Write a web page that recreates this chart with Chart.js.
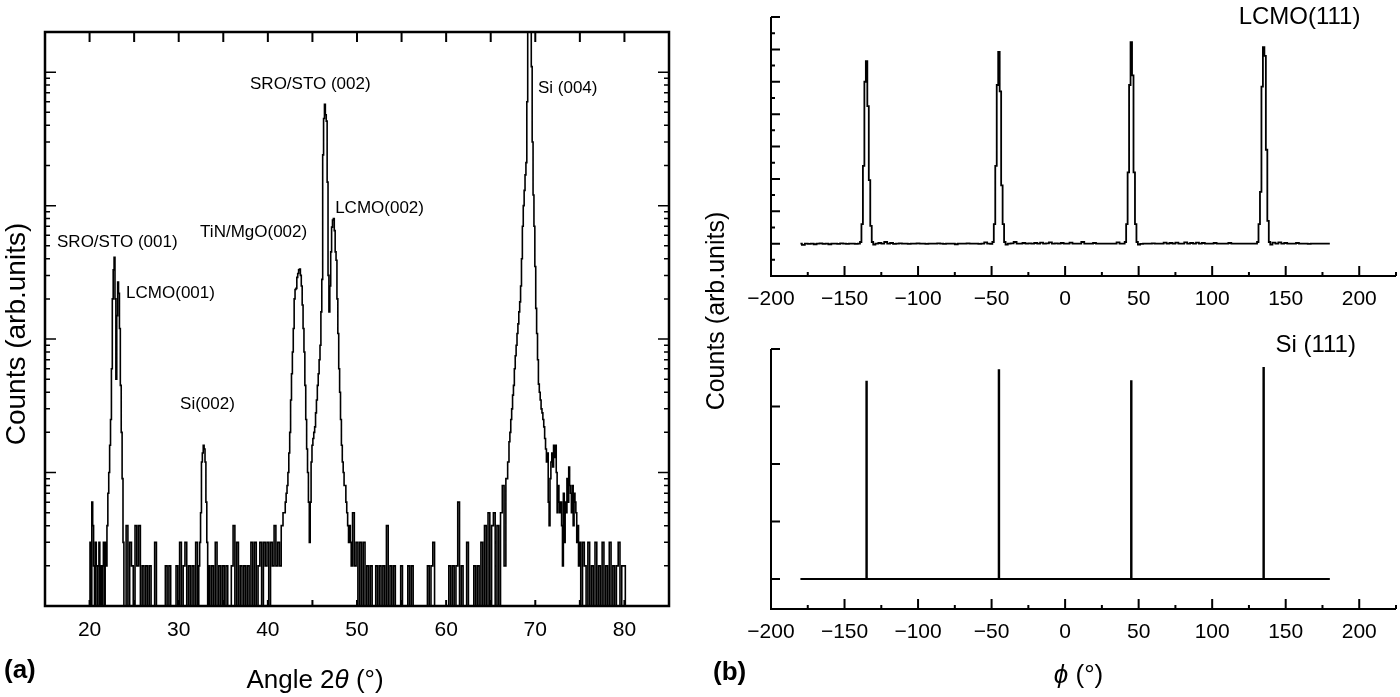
<!DOCTYPE html>
<html>
<head>
<meta charset="utf-8">
<title>XRD 2theta and phi scans</title>
<script src="https://cdn.jsdelivr.net/npm/chart.js@4.4.1/dist/chart.umd.min.js"></script>
<style>
  html, body { margin: 0; padding: 0; background: #fff; }
  #page { position: relative; width: 1400px; height: 697px; overflow: hidden; }
  .panel { position: absolute; top: 0; height: 697px; width: 700px; }
  #panelA { left: 0; }
  #panelB1, #panelB2 { left: 700px; }
</style>
</head>
<body>
<div id="page">
  <div class="panel" id="panelA"><canvas id="chartA"></canvas></div>
  <div class="panel" id="panelB1"><canvas id="chartB1"></canvas></div>
  <div class="panel" id="panelB2"><canvas id="chartB2"></canvas></div>
</div>
<script>
/* (a) theta-2theta scan, counts on a log axis */
const twoTheta = [
  20.0, 20.1, 20.2, 20.3, 20.4, 20.5, 20.6, 20.7, 20.8, 20.9,
  21.0, 21.1, 21.2, 21.3, 21.4, 21.5, 21.6, 21.7, 21.8, 21.9,
  22.0, 22.1, 22.2, 22.3, 22.4, 22.5, 22.6, 22.7, 22.8, 22.9,
  23.0, 23.1, 23.2, 23.3, 23.4, 23.5, 23.6, 23.7, 23.8, 23.9,
  24.0, 24.2, 24.4, 24.6, 24.8, 25.0, 25.2, 25.4, 25.6, 25.8,
  26.0, 26.2, 26.4, 26.6, 26.8, 27.0, 27.2, 27.4, 27.6, 27.8,
  28.0, 28.2, 28.4, 28.6, 28.8, 29.0, 29.2, 29.4, 29.6, 29.8,
  30.0, 30.2, 30.4, 30.6, 30.8, 31.0, 31.2, 31.4, 31.6, 31.8,
  32.0, 32.2,
  32.3, 32.4, 32.5, 32.6, 32.7, 32.8, 32.9, 33.0, 33.1, 33.2, 33.3,
  33.4, 33.6, 33.8, 34.0, 34.2, 34.4, 34.6, 34.8, 35.0, 35.2,
  35.4, 35.6, 35.8, 36.0, 36.2, 36.4, 36.6, 36.8, 37.0, 37.2,
  37.4, 37.6, 37.8, 38.0, 38.2, 38.4, 38.6, 38.8, 39.0, 39.2,
  39.4, 39.6, 39.8, 40.0, 40.2, 40.4, 40.6, 40.8, 41.0, 41.2,
  41.4, 41.6, 41.8,
  41.9, 42.0, 42.1, 42.2, 42.3, 42.4, 42.5, 42.6, 42.7, 42.8,
  42.9, 43.0, 43.1, 43.2, 43.3, 43.4, 43.5, 43.6, 43.7, 43.8,
  43.9, 44.0, 44.1, 44.2, 44.3, 44.4, 44.5, 44.6, 44.7, 44.8,
  44.9, 45.0, 45.1, 45.2, 45.3, 45.4, 45.5, 45.6, 45.7, 45.8,
  45.9, 46.0, 46.1, 46.2, 46.3, 46.4, 46.5, 46.6, 46.7, 46.8,
  46.9, 47.0, 47.1, 47.2, 47.3, 47.4, 47.5, 47.6, 47.7, 47.8,
  47.9, 48.0, 48.1, 48.2, 48.3, 48.4, 48.5, 48.6, 48.7, 48.8,
  48.9, 49.0, 49.1, 49.2, 49.3,
  49.4, 49.6, 49.8, 50.0, 50.2, 50.4, 50.6, 50.8, 51.0, 51.2,
  51.4, 51.6, 51.8, 52.0, 52.2, 52.4, 52.6, 52.8, 53.0, 53.2,
  53.4, 53.6, 53.8, 54.0, 54.2, 54.4, 54.6, 54.8, 55.0, 55.2,
  55.4, 55.6, 55.8, 56.0, 56.2, 56.4, 56.6, 56.8, 57.0, 57.2,
  57.4, 57.6, 57.8, 58.0, 58.2, 58.4, 58.6, 58.8, 59.0, 59.2,
  59.4, 59.6, 59.8, 60.0, 60.2, 60.4, 60.6, 60.8, 61.0, 61.2,
  61.4, 61.6, 61.8, 62.0, 62.2, 62.4, 62.6, 62.8, 63.0, 63.2,
  63.4, 63.6, 63.8, 64.0, 64.2, 64.4, 64.6, 64.8, 65.0, 65.2,
  65.4, 65.6, 65.8, 66.0, 66.2, 66.4, 66.6, 66.8,
  67.0, 67.1, 67.2, 67.3, 67.4, 67.5, 67.6, 67.7, 67.8, 67.9,
  68.0, 68.1, 68.2, 68.3, 68.4, 68.5, 68.6, 68.7, 68.8, 68.9,
  69.0, 69.1, 69.2, 69.3, 69.4, 69.5, 69.6, 69.7, 69.8, 69.9,
  70.0, 70.1, 70.2, 70.3, 70.4, 70.5, 70.6, 70.7, 70.8, 70.9,
  71.0, 71.1, 71.2, 71.3, 71.4, 71.5, 71.6, 71.7, 71.8, 71.9,
  72.0, 72.1, 72.2, 72.3, 72.4, 72.5, 72.6, 72.7, 72.8, 72.9,
  73.0, 73.1, 73.2, 73.3, 73.4, 73.5, 73.6, 73.7, 73.8, 73.9,
  74.0, 74.1, 74.2, 74.3, 74.4, 74.5, 74.6, 74.7, 74.8, 74.9,
  75.0, 75.2, 75.4, 75.6, 75.8, 76.0, 76.2, 76.4, 76.6, 76.8,
  77.0, 77.2, 77.4, 77.6, 77.8, 78.0, 78.2, 78.4, 78.6, 78.8,
  79.0, 79.2, 79.4, 79.6, 79.8, 80.0, 80.2
];
const counts = [
  1, 3, 1, 6, 4, 2, 1, 3, 2, 1,
  2, 3, 1, 2, 1, 2, 3, 1, 3, 2,
  4, 7, 10, 16, 25, 60, 200, 330, 410, 200,
  50, 150, 267, 220, 120, 45, 20, 9, 3, 1,
  1, 4, 1, 3, 2, 1, 4, 2, 4, 1,
  2, 1, 2, 1, 2, 1, 1, 3, 1, 1,
  1, 1, 1, 2, 1, 2, 1, 1, 1, 2,
  1, 3, 1, 2, 3, 1, 2, 1, 2, 1,
  3, 1,
  2, 3, 5, 12, 14, 16, 15, 12, 6, 3, 1,
  2, 1, 2, 1, 3, 1, 2, 1, 2, 1,
  2, 1, 1, 2, 4, 1, 3, 1, 2, 1,
  2, 1, 2, 1, 3, 1, 3, 1, 2, 3,
  1, 3, 2, 3, 1, 3, 2, 4, 2, 3,
  2, 4, 5,
  5, 6, 7, 8, 10, 14, 20, 35, 55, 80,
  120, 200, 235, 240, 290, 310, 330, 335, 300, 250,
  180, 120, 80, 45, 25, 15, 10, 6, 3, 6,
  12, 16, 18, 20, 22, 28, 35, 45, 55, 70,
  90, 160, 280, 2400, 4500, 5750, 4800, 4300, 1500, 300,
  160, 250, 450, 690, 780, 800, 650, 450, 390, 200,
  110, 60, 40, 25, 16, 12, 10, 8, 8, 6,
  5, 4, 3, 4, 3,
  2, 5, 2, 3, 1, 3, 1, 3, 1, 2,
  1, 2, 1, 1, 2, 1, 2, 1, 2, 1,
  4, 1, 2, 1, 2, 1, 1, 1, 2, 1,
  1, 1, 2, 1, 2, 1, 1, 1, 1, 1,
  1, 1, 1, 2, 1, 2, 3, 1, 1, 1,
  1, 1, 1, 1, 1, 2, 1, 2, 1, 2,
  6, 1, 2, 1, 1, 3, 1, 1, 1, 2,
  1, 2, 1, 3, 1, 4, 1, 5, 1, 4,
  5, 1, 4, 1, 5, 8, 2, 9,
  12, 17, 20, 25, 30, 38, 45, 60, 75, 90,
  110, 130, 160, 190, 250, 400, 700, 1000, 1300, 1700,
  2100, 6000, 22000, 40000, 32000, 20000, 11000, 3000, 1200, 700,
  350, 170, 110, 70, 46, 40, 35, 30, 28, 25,
  22, 18, 15, 12, 14, 6, 4, 9, 12, 14,
  11, 16, 13, 16, 10, 5, 8, 6, 5, 6,
  4, 2, 7, 3, 6, 5, 9, 6, 11, 8,
  7, 5, 8, 4, 7, 6, 5, 3, 4, 2,
  3, 1, 3, 2, 1, 3, 1, 2, 1, 3,
  1, 2, 1, 3, 1, 2, 1, 3, 1, 2,
  1, 2, 3, 1, 2, 2, 1
];
const angleTicks = [20, 30, 40, 50, 60, 70, 80];
const peakLabels = ['SRO/STO (001)', 'LCMO(001)', 'Si(002)', 'TiN/MgO(002)', 'SRO/STO (002)', 'LCMO(002)', 'Si (004)'];

/* (b) phi scans */
const phiLcmo = [
  -180, -178, -176, -174, -172, -170, -168, -166, -164, -162,
  -160, -158, -156, -154, -152, -150, -148, -146, -144, -142,
  -140, -139, -138, -137, -136, -135, -134, -133, -132, -131,
  -130, -128, -126, -124, -122, -120, -118, -116, -114, -112,
  -110, -108, -106, -104, -102, -100, -98, -96, -94, -92,
  -90, -88, -86, -84, -82, -80, -78, -76, -74, -72,
  -70, -68, -66, -64, -62, -60, -58, -56, -54, -52,
  -50, -49, -48, -47, -46, -45, -44, -43, -42, -41,
  -40, -38, -36, -34, -32, -30, -28, -26, -24, -22,
  -20, -18, -16, -14, -12, -10, -8, -6, -4, -2,
  0, 2, 4, 6, 8, 10, 12, 14, 16, 18,
  20, 22, 24, 26, 28, 30, 32, 34, 36, 38,
  40, 41, 42, 43, 44, 45, 46, 47, 48, 49,
  50, 52, 54, 56, 58, 60, 62, 64, 66, 68,
  70, 72, 74, 76, 78, 80, 82, 84, 86, 88,
  90, 92, 94, 96, 98, 100, 102, 104, 106, 108,
  110, 112, 114, 116, 118, 120, 122, 124, 126, 128,
  130, 131, 132, 133, 134, 135, 136, 137, 138, 139,
  140, 142, 144, 146, 148, 150, 152, 154, 156, 158,
  160, 162, 164, 166, 168, 170, 172, 174, 176, 178,
  180
];
const lcmoCounts = [
  1.00, 0.96, 1.00, 0.99, 1.00, 0.98, 1.00, 1.01, 0.99, 1.00,
  0.98, 1.00, 1.00, 0.99, 1.01, 1.00, 0.99, 1.00, 1.00, 0.99,
  1.00, 1.05, 1.60, 3.40, 6.00, 6.64, 5.25, 2.96, 1.55, 1.05,
  0.97, 1.00, 1.02, 1.00, 1.05, 1.00, 1.02, 0.99, 1.00, 1.01,
  1.00, 1.00, 0.99, 1.00, 1.00, 1.01, 1.00, 1.00, 0.99, 1.00,
  1.00, 1.00, 1.01, 1.00, 0.99, 1.00, 1.00, 1.00, 0.98, 1.00,
  1.00, 1.00, 1.01, 1.00, 1.00, 1.00, 0.99, 1.00, 1.04, 1.00,
  0.99, 1.05, 1.60, 3.40, 5.90, 6.92, 5.70, 2.80, 1.60, 1.05,
  0.97, 1.00, 1.01, 1.05, 1.00, 1.00, 1.02, 1.00, 1.01, 1.00,
  1.02, 1.00, 1.03, 1.00, 1.01, 1.04, 1.00, 1.01, 1.00, 1.02,
  1.00, 1.00, 1.03, 1.00, 1.00, 1.00, 1.05, 1.00, 1.00, 1.00,
  1.02, 1.00, 1.00, 1.00, 1.00, 1.00, 1.00, 1.00, 1.04, 1.00,
  1.00, 1.05, 1.60, 3.20, 5.90, 7.22, 6.20, 3.20, 1.60, 1.05,
  0.97, 0.99, 1.00, 1.00, 1.00, 1.01, 1.00, 1.00, 1.00, 1.03,
  1.00, 1.02, 1.00, 1.03, 1.00, 1.00, 1.04, 1.00, 1.02, 1.00,
  1.03, 1.00, 1.02, 1.00, 1.00, 1.00, 1.02, 1.00, 1.00, 1.00,
  1.00, 1.02, 1.00, 1.00, 1.00, 1.00, 1.00, 1.00, 1.00, 1.00,
  1.00, 1.05, 1.60, 2.60, 5.85, 7.07, 6.80, 3.90, 1.70, 1.05,
  0.97, 1.03, 1.00, 1.04, 1.00, 1.02, 1.00, 1.00, 1.00, 1.02,
  1.00, 1.00, 1.00, 0.99, 1.00, 1.00, 1.00, 1.00, 1.00, 1.00,
  1.00
];
const phiSi = [-180, -135.3, -135, -134.7, -45.3, -45, -44.7, 44.7, 45, 45.3, 134.7, 135, 135.3, 180];
const siCounts = [1, 1, 4.43, 1, 1, 4.63, 1, 1, 4.44, 1, 1, 4.67, 1, 1];

const FONT = '"Liberation Sans", Arial, Helvetica, sans-serif';
Chart.defaults.font.family = FONT;
Chart.defaults.color = '#000';

function setFont(ctx, size, style) {
  ctx.font = (style ? style + ' ' : '') + size + 'px ' + FONT;
}

// text made of normal / italic pieces, centred on cx
function drawRuns(ctx, runs, cx, cy, size) {
  let total = 0;
  runs.forEach(([t, it]) => { setFont(ctx, size, it ? 'italic' : ''); total += ctx.measureText(t).width; });
  let x = cx - total / 2;
  ctx.textAlign = 'left';
  runs.forEach(([t, it]) => {
    setFont(ctx, size, it ? 'italic' : '');
    ctx.fillText(t, x, cy);
    x += ctx.measureText(t).width;
  });
}

function minusTick(v) {
  return v < 0 ? '\u2212' + Math.abs(v) : String(v);
}

const panelAPlugin = {
  id: 'panelA',
  afterDatasetsDraw(chart) {
    const { ctx, chartArea: a, scales: { x, y } } = chart;
    ctx.save();
    ctx.strokeStyle = '#000';
    ctx.fillStyle = '#000';
    ctx.lineWidth = 2.5;
    ctx.strokeRect(a.left, a.top, a.right - a.left, a.bottom - a.top);

    // inward ticks, top and bottom
    ctx.lineWidth = 2;
    ctx.beginPath();
    for (let v = 20; v <= 80; v += 5) {
      const px = x.getPixelForValue(v);
      ctx.moveTo(px, a.top); ctx.lineTo(px, a.top + 10);
      ctx.moveTo(px, a.bottom); ctx.lineTo(px, a.bottom - 6);
    }
    ctx.stroke();

    // log ticks, left and right
    ctx.lineWidth = 1.5;
    ctx.beginPath();
    for (let d = 1; d <= 10000; d *= 10) {
      for (let m = 1; m <= 9; m++) {
        const v = d * m;
        if (v <= y.min || v >= y.max) continue;
        const py = y.getPixelForValue(v);
        const len = m === 1 ? 11 : 5;
        ctx.moveTo(a.left, py); ctx.lineTo(a.left + len, py);
        ctx.moveTo(a.right, py); ctx.lineTo(a.right - len, py);
      }
    }
    ctx.stroke();

    // peak names, anchored in data units (left edge, middle)
    const at = [[16.35, 534], [24.1, 221], [30.15, 32.6], [32.4, 635], [38.0, 8160], [47.55, 960], [70.3, 7620]];
    ctx.textBaseline = 'middle';
    ctx.textAlign = 'left';
    setFont(ctx, 17);
    peakLabels.forEach((t, i) => ctx.fillText(t, x.getPixelForValue(at[i][0]), y.getPixelForValue(at[i][1])));

    // axis titles
    ctx.save();
    ctx.translate(17, 334);
    ctx.rotate(-Math.PI / 2);
    ctx.textAlign = 'center';
    setFont(ctx, 28);
    ctx.fillText('Counts (arb.units)', 0, 0);
    ctx.restore();

    drawRuns(ctx, [['Angle 2', false], ['\u03B8', true], [' (\u00B0)', false]], 315, 681, 26);

    ctx.textAlign = 'left';
    setFont(ctx, 26, 'bold');
    ctx.fillText('(a)', 4, 671);
    ctx.restore();
  }
};

// left + bottom axes for the phi panels
function phiAxes(id, yMajor, yMinor, yMajorLen, extra) {
  return {
    id: id,
    afterDatasetsDraw(chart) {
      const { ctx, chartArea: a, scales: { x, y } } = chart;
      ctx.save();
      ctx.strokeStyle = '#000';
      ctx.fillStyle = '#000';
      ctx.lineWidth = 2;
      ctx.beginPath();
      ctx.moveTo(a.left, a.top); ctx.lineTo(a.left, a.bottom); ctx.lineTo(a.right, a.bottom);
      for (let v = -175; v <= x.max; v += 25) {
        const px = x.getPixelForValue(v);
        const len = v % 50 === 0 ? 10 : 4;
        ctx.moveTo(px, a.bottom); ctx.lineTo(px, a.bottom - len);
      }
      const step = yMinor || yMajor;
      for (let k = Math.ceil(y.min / step); k * step <= y.max + 1e-9; k++) {
        const v = k * step;
        if (v <= 0) continue;
        const major = Math.abs(v / yMajor - Math.round(v / yMajor)) < 1e-6;
        const py = y.getPixelForValue(v);
        ctx.moveTo(a.left, py); ctx.lineTo(a.left + (major ? yMajorLen : 4), py);
      }
      ctx.stroke();
      extra(ctx, chart);
      ctx.restore();
    }
  };
}

function phiChart(canvasId, xs, ys, lineWidth, yMin, yMax, padTop, xHeight, plugin) {
  return new Chart(document.getElementById(canvasId), {
    type: 'line',
    data: {
      datasets: [{
        data: xs.map((p, i) => ({ x: p, y: ys[i] })),
        borderColor: '#000',
        borderWidth: lineWidth,
        pointRadius: 0,
        stepped: 'middle',
        fill: false
      }]
    },
    options: {
      responsive: true,
      maintainAspectRatio: false,
      animation: false,
      events: [],
      layout: { padding: { top: padTop, right: 4 } },
      plugins: { legend: { display: false }, tooltip: { enabled: false } },
      scales: {
        x: {
          type: 'linear', min: -200, max: 225,
          grid: { display: false }, border: { display: false },
          ticks: { stepSize: 50, includeBounds: false, maxRotation: 0, autoSkip: false,
                   font: { size: 21 }, padding: 3, callback: minusTick },
          afterFit: s => { s.height = xHeight; }
        },
        y: {
          type: 'linear', min: yMin, max: yMax,
          grid: { display: false }, border: { display: false },
          ticks: { display: false },
          afterFit: s => { s.width = 71; }
        }
      }
    },
    plugins: [plugin]
  });
}

new Chart(document.getElementById('chartA'), {
  type: 'line',
  data: {
    datasets: [{
      data: twoTheta.map((t, i) => ({ x: t, y: counts[i] })),
      borderColor: '#000',
      borderWidth: 1.6,
      pointRadius: 0,
      stepped: 'middle',
      fill: false
    }]
  },
  options: {
    responsive: true,
    maintainAspectRatio: false,
    animation: false,
    events: [],
    layout: { padding: { top: 32, right: 31 } },
    plugins: { legend: { display: false }, tooltip: { enabled: false } },
    scales: {
      x: {
        type: 'linear', min: 15, max: 85,
        grid: { display: false }, border: { display: false },
        ticks: { maxRotation: 0, autoSkip: false, font: { size: 21 }, padding: 4 },
        afterBuildTicks: s => { s.ticks = angleTicks.map(v => ({ value: v })); },
        afterFit: s => { s.height = 91; }
      },
      y: {
        type: 'logarithmic', min: 1, max: 20000,
        grid: { display: false }, border: { display: false },
        ticks: { display: false },
        afterFit: s => { s.width = 45; }
      }
    }
  },
  plugins: [panelAPlugin]
});

phiChart('chartB1', phiLcmo, lcmoCounts, 1.8, 0, 8, 17, 421,
  phiAxes('lcmoAxes', 1, 0.5, 9, (ctx, chart) => {
    const { x, y } = chart.scales;
    ctx.textBaseline = 'middle';
    ctx.textAlign = 'left';
    setFont(ctx, 24);
    ctx.fillText('LCMO(111)', x.getPixelForValue(118), y.getPixelForValue(8.0));
    ctx.save();
    ctx.translate(17.5, 311);
    ctx.rotate(-Math.PI / 2);
    ctx.textAlign = 'center';
    setFont(ctx, 25);
    ctx.fillText('Counts (arb.units)', 0, 0);
    ctx.restore();
  }));

phiChart('chartB2', phiSi, siCounts, 2, 0.48, 5, 349, 88,
  phiAxes('siAxes', 1, 0, 9, (ctx, chart) => {
    const { x, y } = chart.scales;
    const a = chart.chartArea;
    ctx.textBaseline = 'middle';
    ctx.textAlign = 'left';
    setFont(ctx, 24);
    ctx.fillText('Si (111)', x.getPixelForValue(143), y.getPixelForValue(5.07));
    drawRuns(ctx, [['\u03D5', true], [' (\u00B0)', false]], (a.left + a.right) / 2 - 5, 676, 26);
    ctx.textAlign = 'left';
    setFont(ctx, 26, 'bold');
    ctx.fillText('(b)', 13, 673);
  }));
</script>
</body>
</html>
